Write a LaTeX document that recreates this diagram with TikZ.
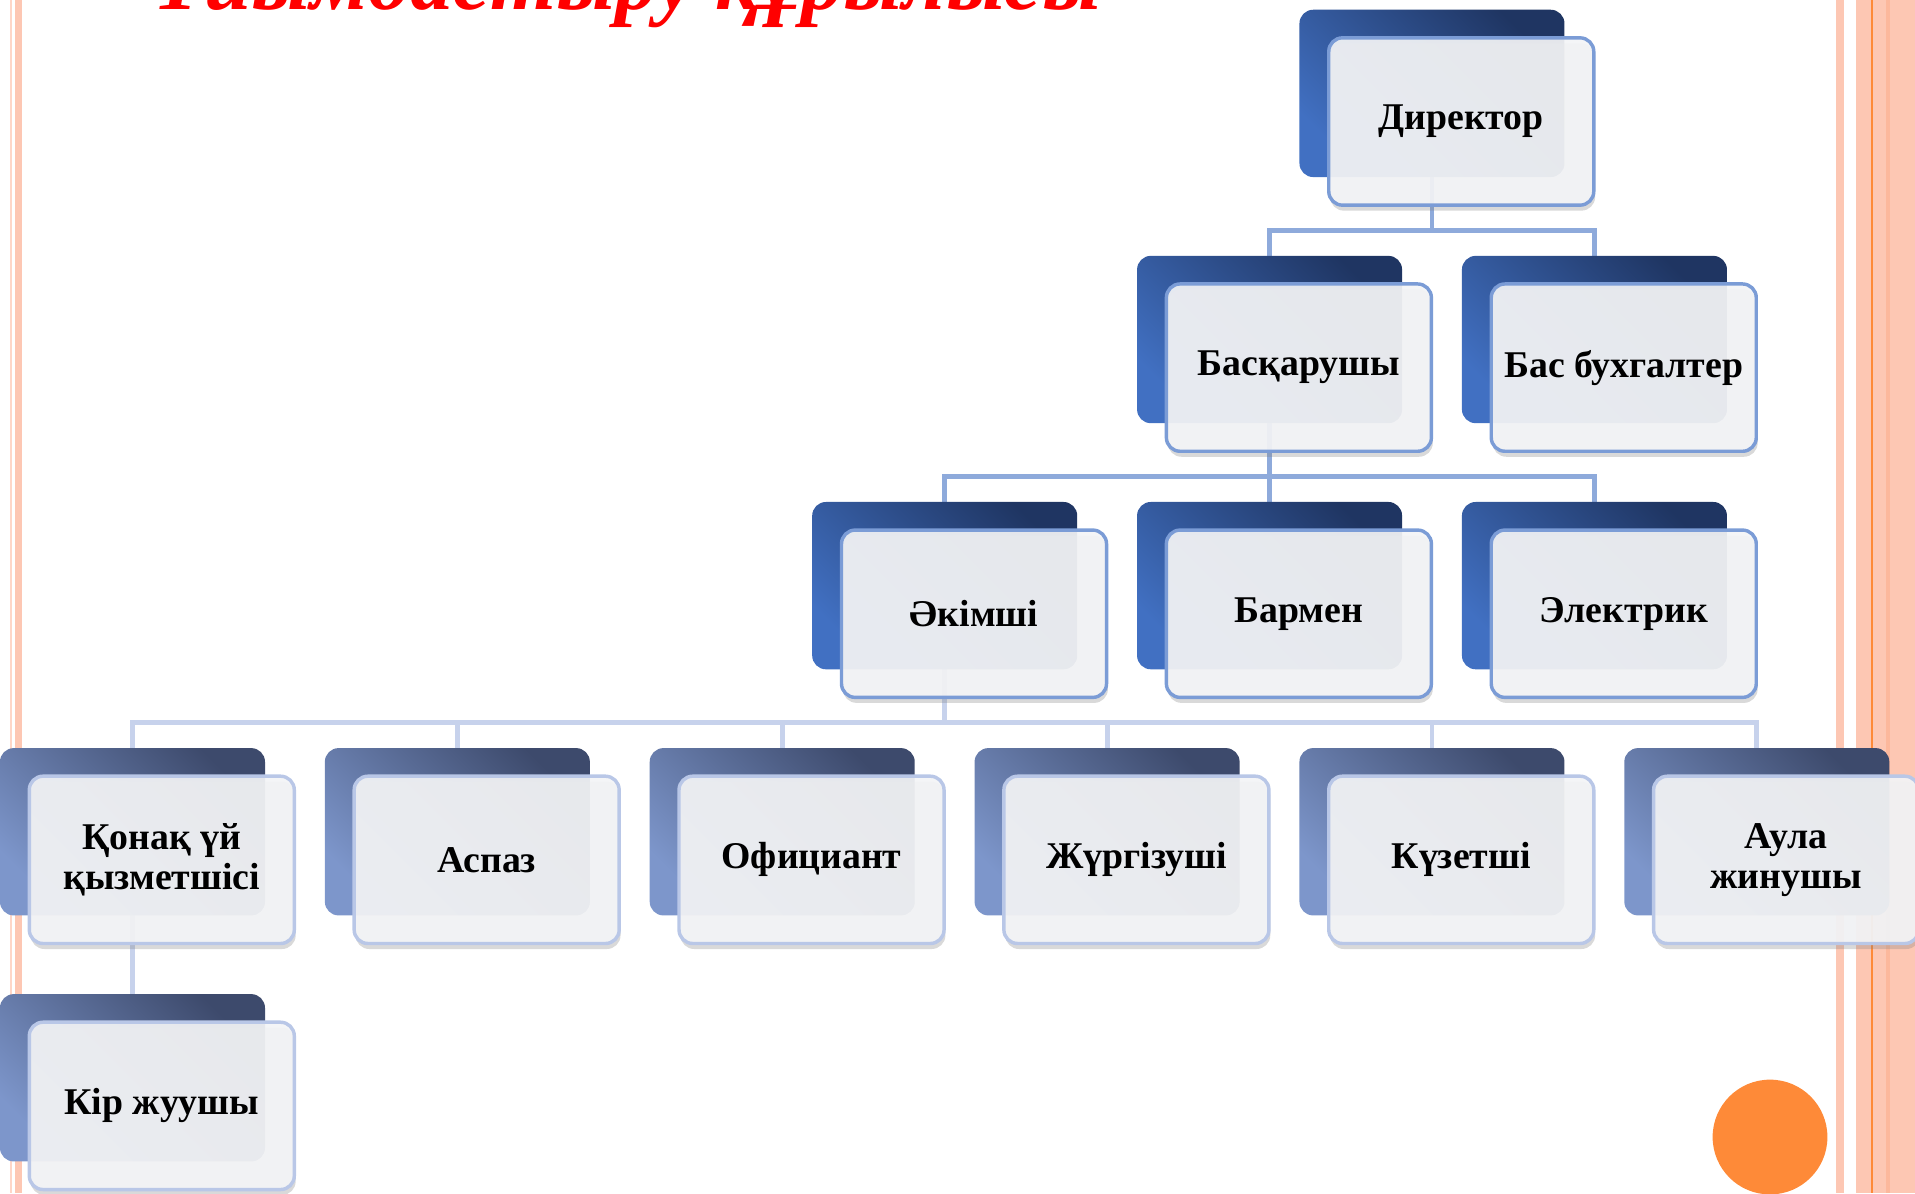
\documentclass[tikz,border=0pt]{standalone}
\usepackage{fontspec}
\setmainfont{Liberation Serif}
\usepackage[usenames,dvipsnames]{xcolor}
\usepackage{tikz}
\usetikzlibrary{calc, backgrounds, shadows}

\definecolor{plateLight}{HTML}{4170C2}
\definecolor{plateDark}{HTML}{1F3562}
\definecolor{plateLightB}{HTML}{7D96CB}
\definecolor{plateDarkB}{HTML}{3D4A6C}
\definecolor{cardFill}{HTML}{F3F4F6}
\definecolor{cardLine}{HTML}{7B9CD6}
\definecolor{cardLineB}{HTML}{B9C7E7}
\definecolor{linkTop}{HTML}{8EAADB}
\definecolor{linkLow}{HTML}{C7D2EC}
\definecolor{stripe}{HTML}{FDC7B3}
\definecolor{stripePale}{HTML}{FED6C7}
\definecolor{stripeDeep}{HTML}{FCB89C}
\definecolor{accent}{HTML}{FE8A38}

\begin{document}
\begin{tikzpicture}[
        plate/.style={rectangle, rounded corners=4pt, minimum width=2.7125cm, minimum height=1.7125cm, top color=plateLight, bottom color=plateDark, shading angle=135},
        plate2/.style={plate, top color=plateLightB, bottom color=plateDarkB, shading angle=135},
        card/.style={rectangle, rounded corners=4pt, draw=cardLine, line width=1pt, fill=cardFill, fill opacity=0.93, text opacity=1, minimum width=2.7125cm, minimum height=1.7125cm, align=center, font=\fontsize{11}{11.6}\selectfont\bfseries, drop shadow={opacity=0.3, shadow xshift=0.4pt, shadow yshift=-1.6pt}},
        card2/.style={card, draw=cardLineB},
        link/.style={draw=linkTop, line width=1.4pt},
        link2/.style={link, draw=linkLow}
    ]
        \useasboundingbox (0,0) rectangle (19.6,-12.2125);
        \clip (0,0) rectangle (19.6,-12.2125);

        % page frame
        \fill[stripePale] (0.1025,0) rectangle (0.1275,-12.2125);
        \fill[stripe] (0.154,0) rectangle (0.225,-12.2125);
        \fill[stripe] (18.791,0) rectangle (18.874,-12.2125);
        \fill[stripe] (18.996,0) rectangle (19.6,-12.2125);
        \fill[accent] (19.15,0) rectangle (19.17,-12.2125);
        \fill[stripeDeep] (19.304,0) rectangle (19.344,-12.2125);
        \fill[accent] (18.116,-11.6375) circle (0.5875);

        \node[anchor=base west, text=red, font=\fontsize{24.7}{30}\selectfont\bfseries\itshape] (title) at (1.44,-0.1) {Ұйымдастыру құрылысы};

        \node[plate] (dir-b) at (14.656,-0.956) {};
        \node[card] (dir) at ($(dir-b)+(0.3,-0.2875)$) {Директор};

        \node[plate] (bm-b) at (12.994,-3.475) {};
        \node[card] (bm) at ($(bm-b)+(0.3,-0.2875)$) {Басқарушы};
        \node[plate] (bb-b) at (16.319,-3.475) {};
        \node[card] (bb) at ($(bb-b)+(0.3,-0.2875)$) {Бас бухгалтер};

        \node[plate] (ak-b) at (9.669,-5.994) {};
        \node[card] (ak) at ($(ak-b)+(0.3,-0.2875)$) {Әкімші};
        \node[plate] (bar-b) at (12.994,-5.994) {};
        \node[card] (bar) at ($(bar-b)+(0.3,-0.2875)$) {Бармен};
        \node[plate] (el-b) at (16.319,-5.994) {};
        \node[card] (el) at ($(el-b)+(0.3,-0.2875)$) {Электрик};

        \node[plate2] (kon-b) at (1.356,-8.513) {};
        \node[card2] (kon) at ($(kon-b)+(0.3,-0.2875)$) {Қонақ үй\\қызметшісі};
        \node[plate2] (asp-b) at (4.681,-8.513) {};
        \node[card2] (asp) at ($(asp-b)+(0.3,-0.2875)$) {Аспаз};
        \node[plate2] (ofc-b) at (8.006,-8.513) {};
        \node[card2] (ofc) at ($(ofc-b)+(0.3,-0.2875)$) {Официант};
        \node[plate2] (jur-b) at (11.331,-8.513) {};
        \node[card2] (jur) at ($(jur-b)+(0.3,-0.2875)$) {Жүргізуші};
        \node[plate2] (kuz-b) at (14.656,-8.513) {};
        \node[card2] (kuz) at ($(kuz-b)+(0.3,-0.2875)$) {Күзетші};
        \node[plate2] (aul-b) at (17.981,-8.513) {};
        \node[card2] (aul) at ($(aul-b)+(0.3,-0.2875)$) {Аула\\жинушы};

        \node[plate2] (kir-b) at (1.356,-11.031) {};
        \node[card2] (kir) at ($(kir-b)+(0.3,-0.2875)$) {Кір жуушы};

        \begin{scope}[on background layer]
            \draw[link] (dir-b.center) -- ++(0,-1.4) -| (bm-b.center);
            \draw[link] (dir-b.center) -- ++(0,-1.4) -| (bb-b.center);
            \draw[link] (bm-b.center) -- ++(0,-1.4) -| (ak-b.center);
            \draw[link] (bm-b.center) -- ++(0,-1.4) -| (bar-b.center);
            \draw[link] (bm-b.center) -- ++(0,-1.4) -| (el-b.center);
            \draw[link2] (ak-b.center) -- ++(0,-1.4) -| (kon-b.center);
            \draw[link2] (ak-b.center) -- ++(0,-1.4) -| (asp-b.center);
            \draw[link2] (ak-b.center) -- ++(0,-1.4) -| (ofc-b.center);
            \draw[link2] (ak-b.center) -- ++(0,-1.4) -| (jur-b.center);
            \draw[link2] (ak-b.center) -- ++(0,-1.4) -| (kuz-b.center);
            \draw[link2] (ak-b.center) -- ++(0,-1.4) -| (aul-b.center);
            \draw[link2] (kon-b.center) -- (kir-b.center);
        \end{scope}
    \end{tikzpicture}
\end{document}
